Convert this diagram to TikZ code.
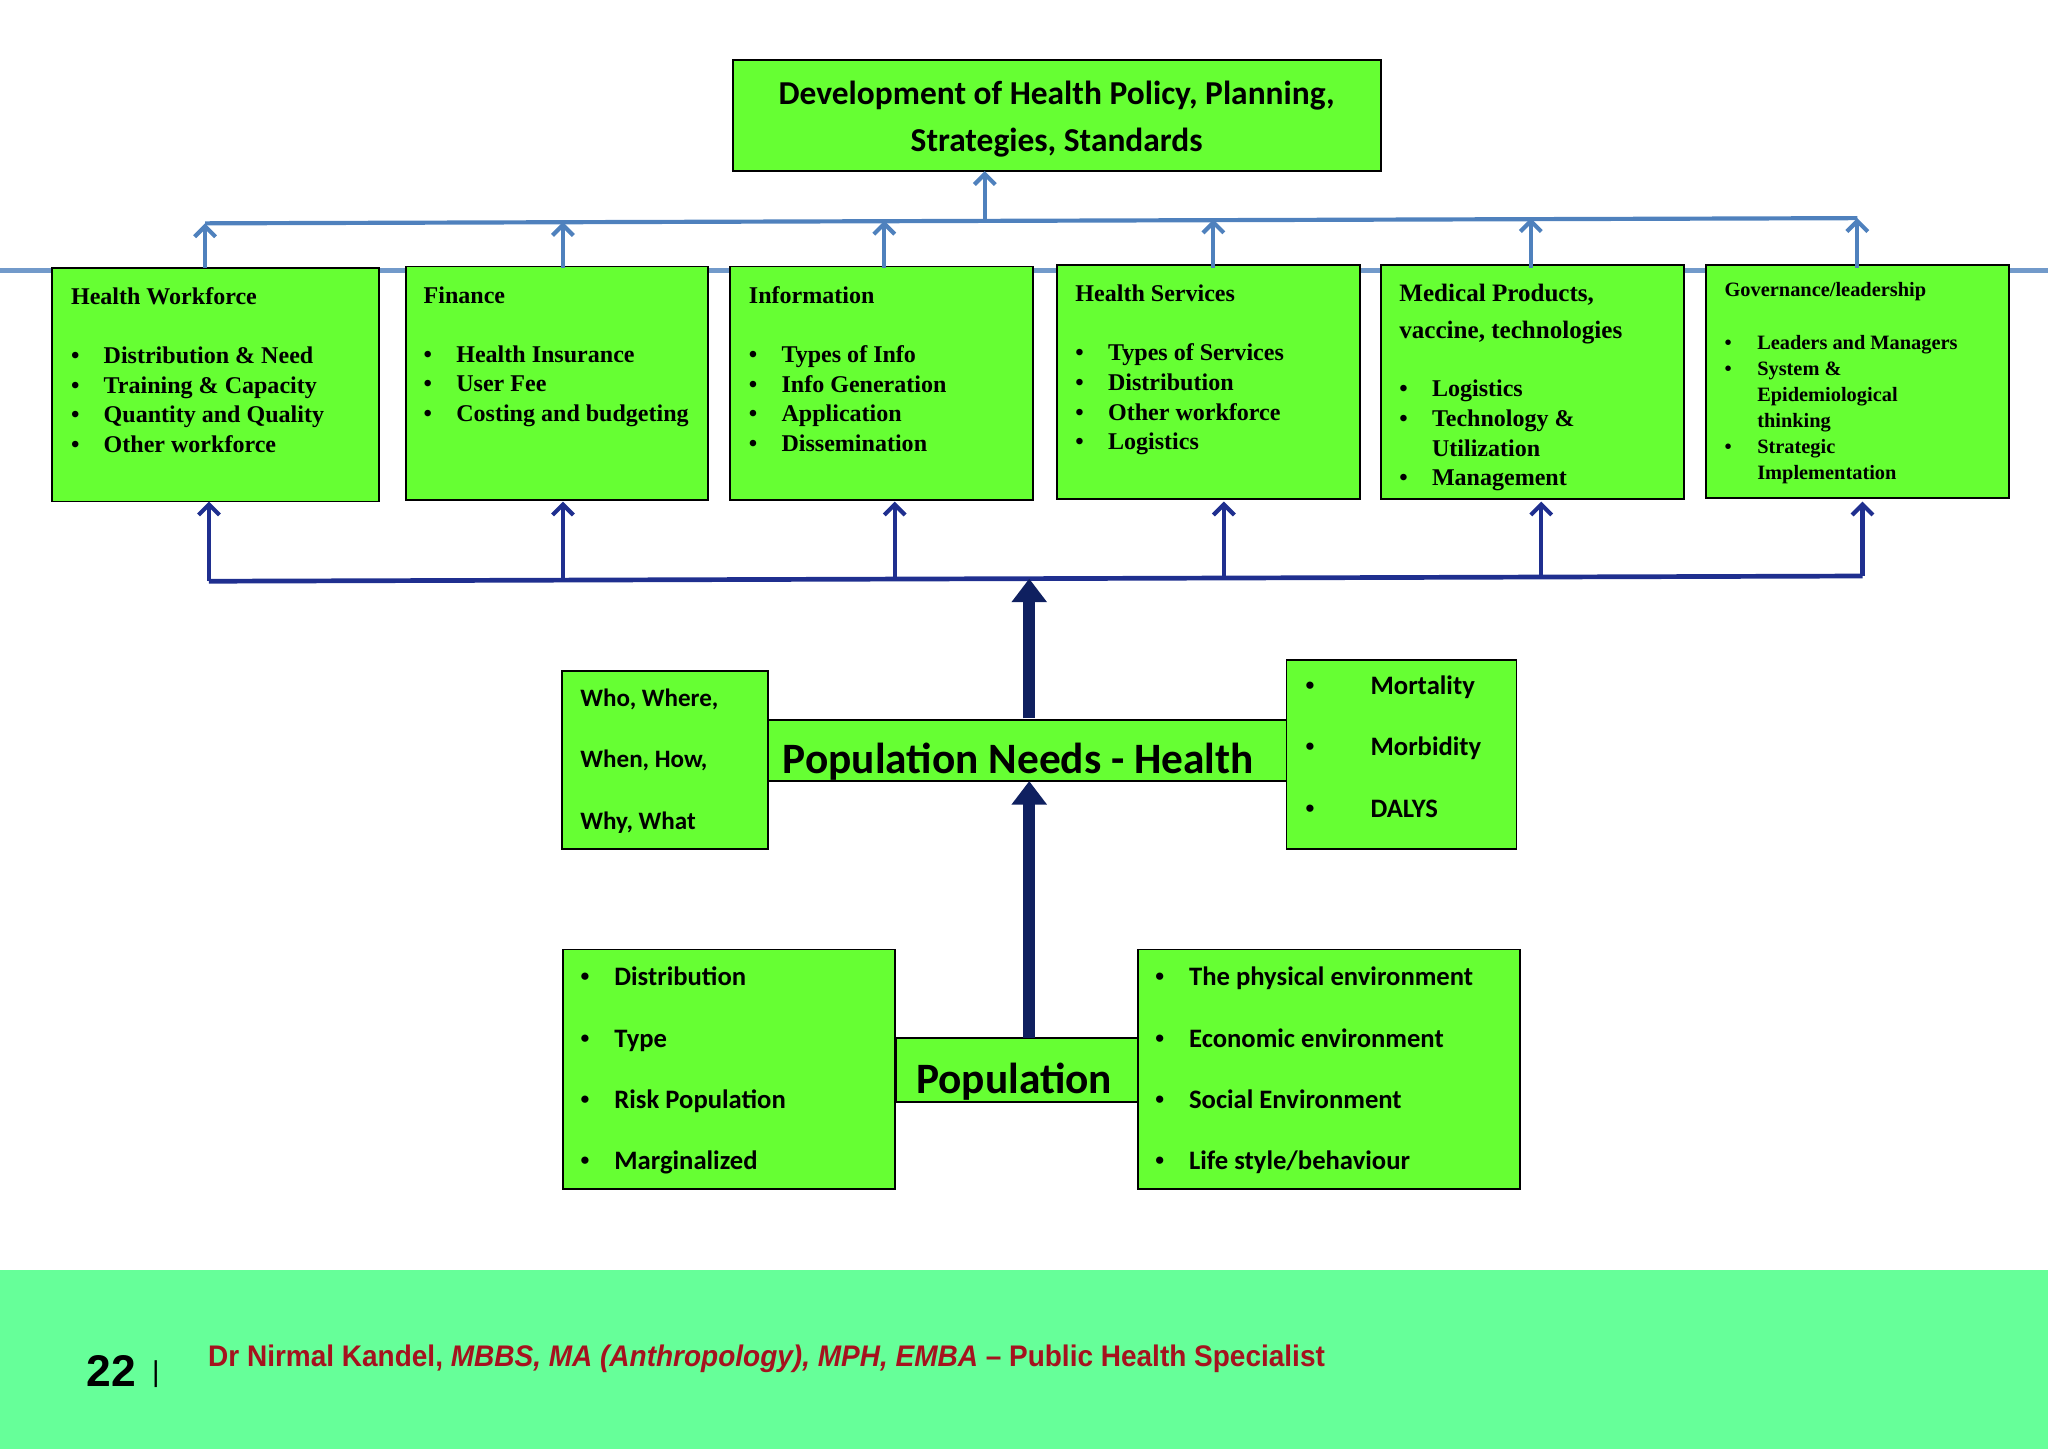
\documentclass[tikz,border=0pt]{standalone}
\usepackage{fontspec}
\setmainfont{Liberation Serif}
\newfontfamily\calfnt{Carlito}
\newfontfamily\ars{Liberation Sans}
\usetikzlibrary{arrows.meta}
\definecolor{gr}{HTML}{66FF33}
\definecolor{lb}{HTML}{4F81BD}
\definecolor{db}{HTML}{1F2F8F}
\definecolor{nv}{HTML}{0F2060}
\definecolor{ft}{HTML}{66FF99}
\definecolor{rd}{HTML}{A5121E}
\newcommand{\bi}[1]{\makebox[12.5pt][l]{\textbullet}#1}
\newcommand{\ci}[1]{\makebox[12.5pt][l]{}#1}
\newcommand{\bc}[1]{\makebox[25pt][l]{\rmfamily\textbullet}#1}
\newcommand{\bp}[1]{\makebox[13pt][l]{\rmfamily\textbullet}#1}
\begin{document}
\begin{tikzpicture}[x=0.5pt,y=-0.5pt,
 box/.style={draw=black,line width=0.7pt,fill=gr},
 txt/.style={anchor=north west,inner sep=0,align=left,font=\bfseries\fontsize{9.2}{11.3}\selectfont},
 ctx/.style={anchor=north west,inner sep=0,align=left,font=\calfnt\bfseries\fontsize{10.2}{23.5}\selectfont},
 up/.style={draw=lb,line width=1.6pt,-{Straight Barb[length=4pt,width=8pt]}},
 up2/.style={draw=db,line width=1.6pt,-{Straight Barb[length=4pt,width=8pt]}},
 big/.style={draw=nv,line width=4.5pt,-{Triangle[length=9pt,width=13pt]}}]
\useasboundingbox (0,0) rectangle (1568,1109);
\draw[lb!80,line width=2pt] (0,207) -- (1568,207);
% top box
\draw[box] (561,46) rectangle (1057,131);
\node[align=center,font=\calfnt\bfseries\fontsize{12.8}{18}\selectfont] (top) at (809,91) {Development of Health Policy, Planning,\\Strategies, Standards};
% six boxes
\foreach \n/\a/\b/\c/\d in {b1/40/205/290/384,b2/311/204/542/383,b3/559/204/791/383,b4/809/203/1041/382,b5/1057/203/1289/382,b6/1306/203/1538/381}
 {\draw[box] (\a,\b) rectangle (\c,\d); \coordinate (\n t) at (\a,\b); \coordinate (\n b) at (\a,\d);}
\node[txt] at (54,220) {Health Workforce\\[11.3pt]\bi{Distribution \& Need}\\\bi{Training \& Capacity}\\\bi{Quantity and Quality}\\\bi{Other workforce}};
\node[txt] at (324,219) {Finance\\[11.3pt]\bi{Health Insurance}\\\bi{User Fee}\\\bi{Costing and budgeting}};
\node[txt] at (573,219) {Information\\[11.3pt]\bi{Types of Info}\\\bi{Info Generation}\\\bi{Application}\\\bi{Dissemination}};
\node[txt] at (823,218) {Health Services\\[11.3pt]\bi{Types of Services}\\\bi{Distribution}\\\bi{Other workforce}\\\bi{Logistics}};
\node[txt] at (1071,217) {\fontsize{9.6}{14}\selectfont Medical Products,\\[3pt]\fontsize{9.6}{14}\selectfont vaccine, technologies\\[11pt]\bi{Logistics}\\\bi{Technology \&}\\\ci{Utilization}\\\bi{Management}};
\node[txt,font=\bfseries\fontsize{7.8}{10}\selectfont] at (1320,216) {Governance/leadership\\[10pt]\bi{Leaders and Managers}\\\bi{System \&}\\\ci{Epidemiological}\\\ci{thinking}\\\bi{Strategic}\\\ci{Implementation}};
% top connectors
\coordinate (L1) at (157,171); \coordinate (R1) at (1422,167);
\draw[lb,line width=1.6pt] (L1) -- (R1);
\foreach \x/\y in {157/171,431/170,677/169,929/168,1172/167,1422/167}
 \draw[up] (\x,205) -- (\x,\y);
\coordinate (m1) at (754,168);
\draw[up] (m1) -- (754,131);
% bottom connectors
\draw[db,line width=1.8pt] (160,445) -- (1426,441);
\foreach \x/\y in {160/445,431/444,685/443,937/442,1180/442,1426/441}
 \draw[up2] (\x,\y) -- (\x,384);
% population needs
\draw[box] (588,551) rectangle (985,598);
\node[font=\calfnt\bfseries\fontsize{16.6}{18}\selectfont,anchor=west,inner sep=0] (pn) at (599,583) {Population Needs - Health};
\draw[box] (430,514) rectangle (588,650);
\node[ctx,font=\calfnt\bfseries\fontsize{9.6}{23.5}\selectfont] at (444,527) {Who, Where,\\When, How,\\Why, What};
\draw[box] (985,505) rectangle (1161,650);
\node[ctx] at (999,517) {\bc{Mortality}\\\bc{Morbidity}\\\bc{DALYS}};
\draw[big] (788,550) -- (788,443);
% population
\draw[box] (686,795) rectangle (871,844);
\node[font=\calfnt\bfseries\fontsize{16.6}{18}\selectfont,anchor=west,inner sep=0] (pop) at (701,828) {Population};
\draw[box] (431,727) rectangle (685,910);
\node[ctx] at (444,740) {\bp{Distribution}\\\bp{Type}\\\bp{Risk Population}\\\bp{Marginalized}};
\draw[box] (871,727) rectangle (1164,910);
\node[ctx] at (884,740) {\bp{The physical environment}\\\bp{Economic environment}\\\bp{Social Environment}\\\bp{Life style/behaviour}};
\draw[big] (788,795) -- (788,598);
% footer
\fill[ft] (0,972) rectangle (1568,1109);
\node[anchor=west,inner sep=0,font=\ars\bfseries\fontsize{17}{20}\selectfont] at (66,1050) {22};
\node[anchor=west,inner sep=0,font=\ars\fontsize{11}{13}\selectfont] at (116,1052) {|};
\node[anchor=west,inner sep=0,text=rd,font=\ars\bfseries\fontsize{11.4}{14}\selectfont] at (159,1040) {\scalebox{0.94}[1]{Dr Nirmal Kandel, \textit{MBBS, MA (Anthropology), MPH, EMBA} – Public Health Specialist}};
\end{tikzpicture}
\end{document}
